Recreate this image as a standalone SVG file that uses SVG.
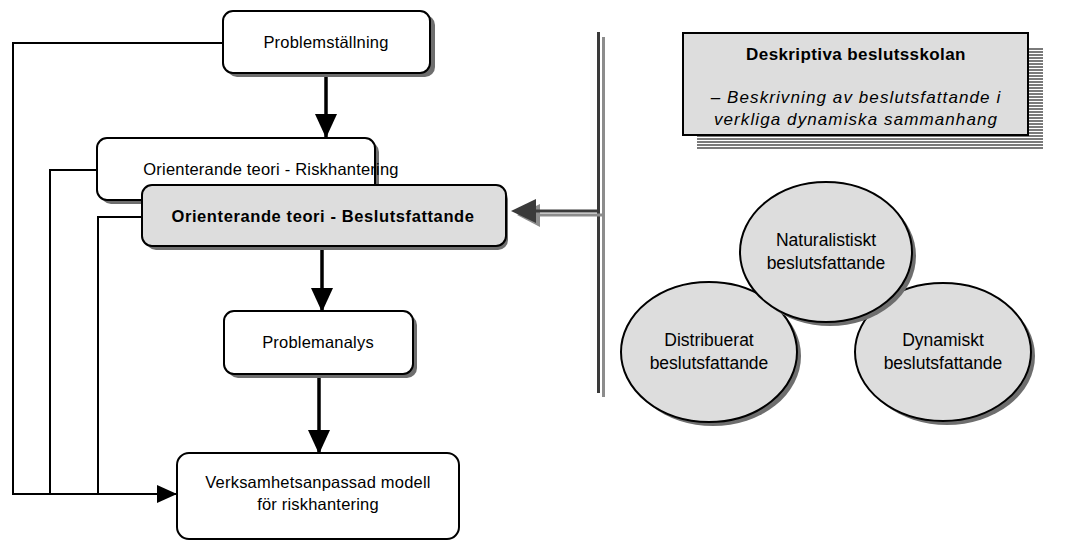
<svg xmlns="http://www.w3.org/2000/svg" width="1068" height="542" viewBox="0 0 1068 542">
  <defs>
    <style>
      text { font-family: "Liberation Sans", Arial, sans-serif; fill: #000; }
      .lbl { font-size: 16.5px; text-anchor: middle; letter-spacing: 0.2px; }
      .bold { font-size: 16.5px; font-weight: bold; text-anchor: middle; letter-spacing: 0.6px; }
      .box { fill: #fff; stroke: #000; stroke-width: 2; }
      .gbox { fill: #dddddd; stroke: #000; stroke-width: 2; }
      .shadow { fill: #6e6e6e; }
      .wire { fill: none; stroke: #000; stroke-width: 2; }
      .flow { fill: none; stroke: #000; stroke-width: 3.5; }
      .ell { fill: #dddddd; stroke: #000; stroke-width: 2; }
      .etxt { font-size: 17.5px; text-anchor: middle; }
      .ital { font-size: 17px; font-style: italic; text-anchor: middle; letter-spacing: 1.1px; }
    </style>
    <marker id="bigHead" viewBox="0 0 24 22" refX="23" refY="11" markerWidth="24" markerHeight="22" markerUnits="userSpaceOnUse" orient="auto">
      <path d="M0,0 L24,11 L0,22 Z" fill="#000"/>
    </marker>
    <marker id="smallHead" viewBox="0 0 20 18" refX="19" refY="9" markerWidth="20" markerHeight="18" markerUnits="userSpaceOnUse" orient="auto">
      <path d="M0,0 L20,9 L0,18 Z" fill="#000"/>
    </marker>
    <pattern id="stripes" width="8" height="3" patternUnits="userSpaceOnUse">
      <rect x="0" y="0" width="8" height="2" fill="#7a7a7a"/>
    </pattern>
  </defs>

  <!-- feedback lines on the left and the main flow -->
  <g id="connectors">
    <path class="wire" d="M223,43 H13 V494 H176" marker-end="url(#smallHead)"/>
    <path class="wire" d="M97,170 H50 V494"/>
    <path class="wire" d="M142,217 H98 V494"/>
    <path class="flow" d="M326,74 V137" marker-end="url(#bigHead)"/>
    <path class="flow" d="M322,247 V311" marker-end="url(#bigHead)"/>
    <path class="flow" d="M319,376 V453" marker-end="url(#bigHead)"/>

    <!-- double separator bar -->
    <rect x="597" y="32" width="3" height="361" fill="#3a3a3a"/>
    <rect x="602" y="37" width="3" height="360" fill="#8c8c8c"/>
    <!-- double arrow into the decision-theory box -->
    <path d="M602,215 H538" stroke="#8c8c8c" stroke-width="3" fill="none"/>
    <path d="M517,215 L540,204 L540,227 Z" fill="#8c8c8c"/>
    <path d="M598,211 H534" stroke="#3a3a3a" stroke-width="3" fill="none"/>
    <path d="M511,211 L536,199 L536,223 Z" fill="#3a3a3a"/>
  </g>

  <g id="problemstallning">
    <rect class="shadow" x="227" y="15" width="208" height="62" rx="10"/>
    <rect class="box" x="223" y="11" width="207" height="62" rx="10"/>
    <text class="lbl" x="326" y="48">Problemställning</text>
  </g>

  <g id="riskhantering">
    <rect class="shadow" x="101" y="142" width="278" height="62" rx="10"/>
    <rect class="box" x="97" y="138" width="278" height="62" rx="10"/>
    <text class="lbl" x="271" y="175" letter-spacing="0.4">Orienterande teori - Riskhantering</text>
  </g>

  <g id="beslutsfattande">
    <rect class="shadow" x="146" y="189" width="362" height="61" rx="10"/>
    <rect class="gbox" x="142" y="185" width="364" height="61" rx="10"/>
    <text class="bold" x="323" y="222">Orienterande teori - Beslutsfattande</text>
  </g>

  <g id="problemanalys">
    <rect class="shadow" x="228" y="315" width="189" height="63" rx="10"/>
    <rect class="box" x="224" y="311" width="189" height="63" rx="10"/>
    <text class="lbl" x="318" y="348">Problemanalys</text>
  </g>

  <g id="verksamhet">
    <rect class="box" x="177" y="453" width="282" height="86" rx="12"/>
    <text class="lbl" x="318" y="488">Verksamhetsanpassad modell</text>
    <text class="lbl" x="318" y="510">för riskhantering</text>
  </g>

  <g id="deskriptiva">
    <rect x="697" y="47" width="346" height="102" fill="url(#stripes)"/>
    <rect x="683" y="33" width="345" height="102" fill="#dddddd" stroke="#000" stroke-width="2"/>
    <text x="856" y="60" font-size="17px" font-weight="bold" text-anchor="middle" letter-spacing="0.4">Deskriptiva beslutsskolan</text>
    <text class="ital" x="856" y="103">– Beskrivning av beslutsfattande i</text>
    <text class="ital" x="856" y="125">verkliga dynamiska sammanhang</text>
  </g>

  <g id="distribuerat">
    <ellipse cx="713" cy="356" rx="88" ry="70" fill="#6e6e6e"/>
    <ellipse class="ell" cx="709" cy="352" rx="88" ry="70"/>
    <text class="etxt" x="709" y="346">Distribuerat</text>
    <text class="etxt" x="709" y="369">beslutsfattande</text>
  </g>

  <g id="dynamiskt">
    <ellipse cx="947" cy="356" rx="88" ry="69" fill="#6e6e6e"/>
    <ellipse class="ell" cx="943" cy="352" rx="88" ry="69"/>
    <text class="etxt" x="943" y="346">Dynamiskt</text>
    <text class="etxt" x="943" y="369">beslutsfattande</text>
  </g>

  <g id="naturalistiskt">
    <ellipse cx="830" cy="256" rx="86" ry="70" fill="#6e6e6e"/>
    <ellipse class="ell" cx="826" cy="252" rx="86" ry="70"/>
    <text class="etxt" x="826" y="246">Naturalistiskt</text>
    <text class="etxt" x="826" y="269">beslutsfattande</text>
  </g>
</svg>
